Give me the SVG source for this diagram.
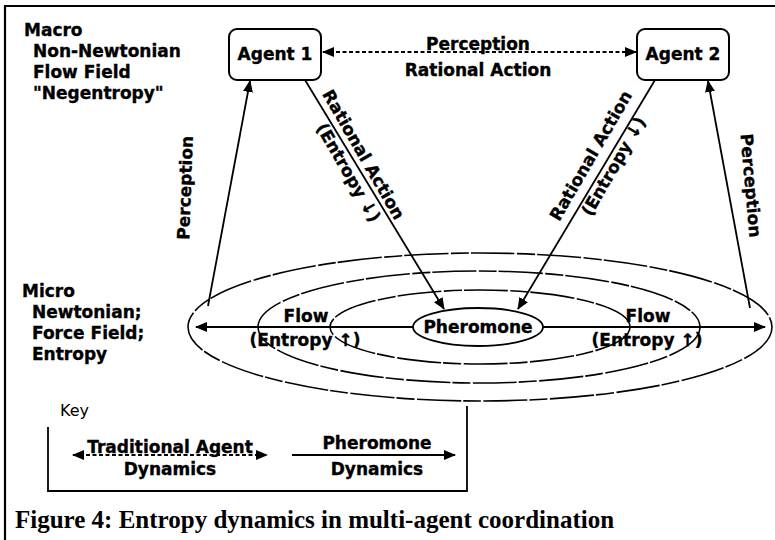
<svg xmlns="http://www.w3.org/2000/svg" width="775" height="540" viewBox="0 0 775 540">
<style>
.t{font-family:"DejaVu Sans","Liberation Sans",sans-serif;font-weight:bold;font-size:17px;fill:#000;stroke:#000;stroke-width:0.35}
.r{font-family:"DejaVu Sans","Liberation Sans",sans-serif;font-weight:bold;font-size:17px;fill:#000;stroke:#000;stroke-width:0.35}
.m{text-anchor:middle}
.ln{stroke:#000;stroke-width:1.8;fill:none}
.dash{stroke-dasharray:4 2.5}
.ell{stroke:#000;stroke-width:1.6;fill:none;stroke-dasharray:44 2.5 18 2}
.box{stroke:#000;stroke-width:2;fill:#fff}
</style>
<defs>
<marker id="ah" viewBox="0 0 12 10" markerUnits="userSpaceOnUse" markerWidth="12" markerHeight="10" refX="11" refY="5" orient="auto-start-reverse">
<path d="M0,0 L12,5 L0,10 z" fill="#000"/>
</marker>
</defs>
<rect width="775" height="540" fill="#fff"/>
<g id="frame">
<line x1="4" y1="6" x2="775" y2="6" stroke="#000" stroke-width="2.2"/>
<line x1="5" y1="5" x2="5" y2="540" stroke="#000" stroke-width="2.2"/>
</g>
<g id="macro-label">
<text class="t" x="24" y="36">Macro</text>
<text class="t" x="33" y="57">Non-Newtonian</text>
<text class="t" x="33" y="78">Flow Field</text>
<text class="t" x="33" y="99">"Negentropy"</text>
</g>
<g id="micro-label">
<text class="t" x="22" y="297">Micro</text>
<text class="t" x="32" y="318">Newtonian;</text>
<text class="t" x="32" y="339">Force Field;</text>
<text class="t" x="32" y="360">Entropy</text>
</g>
<g id="field">
<ellipse class="ell" cx="480" cy="327" rx="292" ry="74"/>
<ellipse class="ell" cx="479" cy="327" rx="221" ry="56"/>
<ellipse class="ell" cx="480" cy="327" rx="150" ry="37"/>
</g>
<g id="connectors">
<line class="ln dash" x1="323" y1="52" x2="636" y2="52" marker-start="url(#ah)" marker-end="url(#ah)"/>
<line class="ln" x1="208" y1="306" x2="250" y2="81" marker-end="url(#ah)"/>
<line class="ln" x1="750" y1="308" x2="708" y2="81" marker-end="url(#ah)"/>
<line class="ln" x1="305" y1="80" x2="444" y2="309" marker-end="url(#ah)"/>
<line class="ln" x1="655" y1="80" x2="518" y2="309" marker-end="url(#ah)"/>
<line class="ln" x1="413" y1="327" x2="196" y2="327" marker-end="url(#ah)"/>
<line class="ln" x1="543" y1="327" x2="765" y2="327" marker-end="url(#ah)"/>
</g>
<g id="connector-labels">
<text class="t m" x="478" y="50">Perception</text>
<text class="t m" x="478" y="76">Rational Action</text>
<text class="r m" transform="translate(191,188) rotate(-88)">Perception</text>
<text class="r m" transform="translate(745,186) rotate(85)">Perception</text>
<g transform="translate(357,163) rotate(60)">
<text class="r m" x="-4" y="-4">Rational Action</text>
<text class="r m" x="4" y="18">(Entropy ↓)</text>
</g>
<g transform="translate(602,162) rotate(-60)">
<text class="r m" x="0" y="-7">Rational Action</text>
<text class="r m" x="2" y="18">(Entropy ↓)</text>
</g>
<text class="t m" x="306" y="322">Flow</text>
<text class="t m" x="305" y="346">(Entropy ↑)</text>
<text class="t m" x="648" y="322">Flow</text>
<text class="t m" x="647" y="346">(Entropy ↑)</text>
</g>
<g id="agent1">
<rect class="box" x="229" y="29" width="92" height="51" rx="8"/>
<text class="t m" x="275" y="60">Agent 1</text>
</g>
<g id="agent2">
<rect class="box" x="637" y="29" width="92" height="51" rx="8"/>
<text class="t m" x="683" y="60">Agent 2</text>
</g>
<g id="pheromone">
<ellipse cx="478" cy="327" rx="65" ry="19" stroke="#000" stroke-width="1.8" fill="#fff"/>
<text class="t m" x="478" y="333">Pheromone</text>
</g>
<g id="key">
<text x="60" y="416" font-family="DejaVu Sans, sans-serif" font-size="16">Key</text>
<path class="ln" d="M48,427 V491 H467 V406" stroke-width="2"/>
<line class="ln dash" x1="73" y1="455" x2="267" y2="455" marker-start="url(#ah)" marker-end="url(#ah)"/>
<text class="r m" x="170" y="453">Traditional Agent</text>
<text class="r m" x="170" y="475">Dynamics</text>
<line class="ln" x1="292" y1="455" x2="455" y2="455" marker-end="url(#ah)"/>
<text class="r m" x="377" y="449">Pheromone</text>
<text class="r m" x="377" y="475">Dynamics</text>
</g>
<text id="caption" x="15" y="528" font-family="Liberation Serif, serif" font-weight="bold" font-size="25">Figure 4: Entropy dynamics in multi-agent coordination</text>
</svg>
